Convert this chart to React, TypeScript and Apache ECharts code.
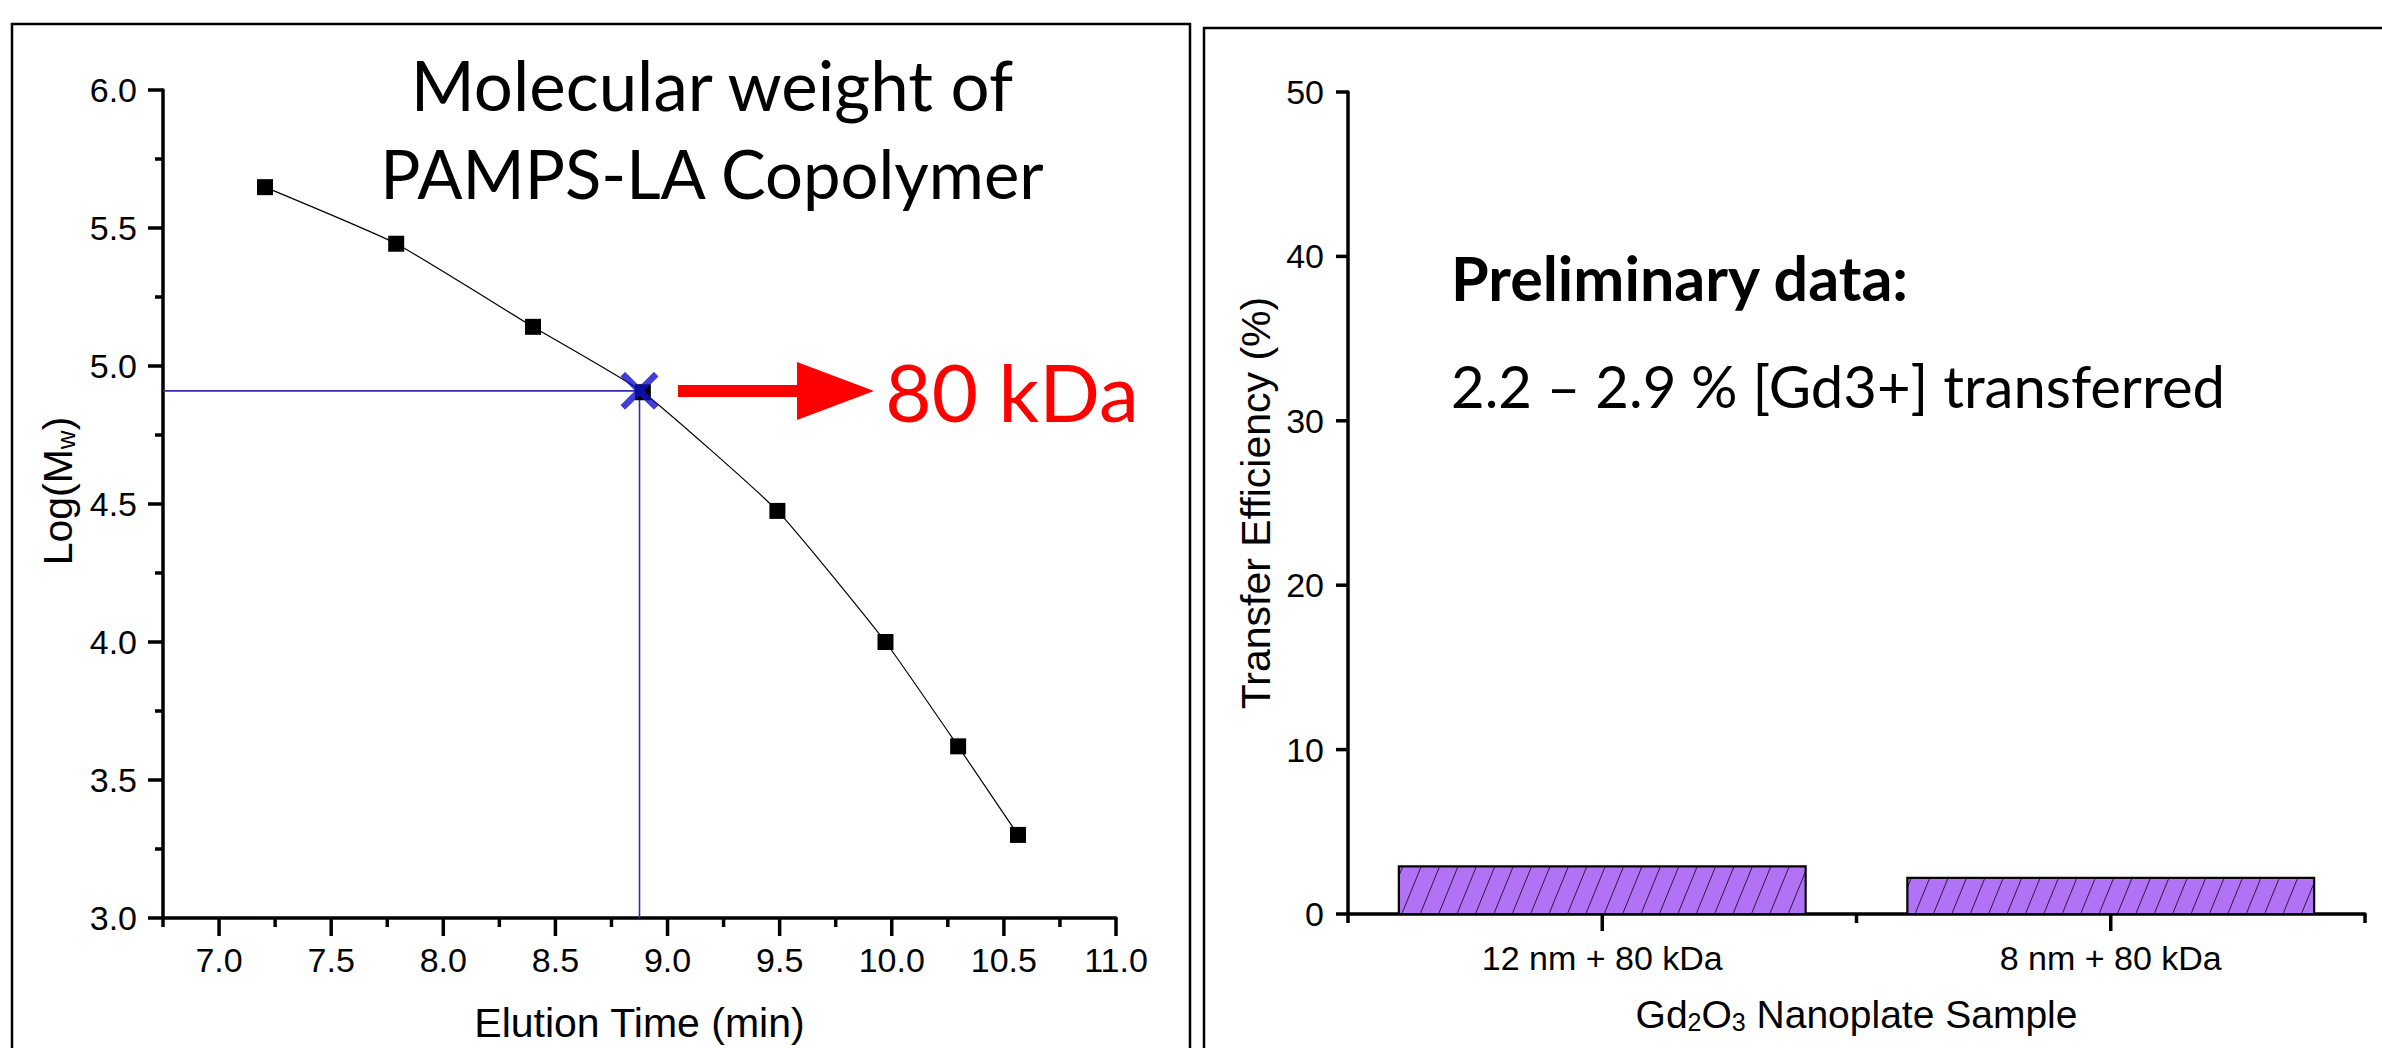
import React, { useEffect, useRef } from "react";
import * as echarts from "echarts";

// ---------- data ----------
const elutionTime = [7.205, 7.79, 8.4, 8.89, 9.49, 9.972, 10.296, 10.563];
const logMw = [5.648, 5.443, 5.142, 4.905, 4.475, 4.0, 3.622, 3.301];
const markerTime = 8.875;
const markerLogMw = 4.91;
const xMajorTicks = [7.0, 7.5, 8.0, 8.5, 9.0, 9.5, 10.0, 10.5, 11.0];
const xMinorTicks = [6.75, 7.25, 7.75, 8.25, 8.75, 9.25, 9.75, 10.25, 10.75];
const yMajorTicks = [3.0, 3.5, 4.0, 4.5, 5.0, 5.5, 6.0];
const yMinorTicks = [3.25, 3.75, 4.25, 4.75, 5.25, 5.75];
const xAxisMin = 6.75;
const xAxisMax = 11.0;
const yAxisMin = 3.0;
const yAxisMax = 6.0;
const samples = ["12 nm + 80 kDa", "8 nm + 80 kDa"];
const transferEfficiency = [2.9, 2.2];
const efficiencyTicks = [0, 10, 20, 30, 40, 50];

const SANS = "'Liberation Sans', Arial, sans-serif";
const CAL = "Lato, 'Open Sans', sans-serif";
const TICK_W = 3.5;

// custom series drawing tick marks; the value goes through the axis scale,
// the other coordinate is the grid edge where the axis line sits
function xTickSeries(xAxisIndex: number, yAxisIndex: number, values: number[], yRef: number, len: number) {
  return {
    type: "custom",
    xAxisIndex,
    yAxisIndex,
    silent: true,
    clip: false,
    data: values.map((v) => [v, yRef]),
    renderItem: (params: any, api: any) => {
      const p = api.coord([api.value(0), api.value(1)]);
      const yb = params.coordSys.y + params.coordSys.height;
      return { type: "line", shape: { x1: p[0], y1: yb, x2: p[0], y2: yb + len }, style: { stroke: "#000", lineWidth: TICK_W } };
    },
    z: 5,
  };
}
function yTickSeries(xAxisIndex: number, yAxisIndex: number, values: number[], xRef: number, len: number) {
  return {
    type: "custom",
    xAxisIndex,
    yAxisIndex,
    silent: true,
    clip: false,
    data: values.map((v) => [xRef, v]),
    renderItem: (params: any, api: any) => {
      const p = api.coord([api.value(0), api.value(1)]);
      const xl = params.coordSys.x;
      return { type: "line", shape: { x1: xl, y1: p[1], x2: xl - len, y2: p[1] }, style: { stroke: "#000", lineWidth: TICK_W } };
    },
    z: 5,
  };
}

export default function App() {
  const ref = useRef<HTMLDivElement>(null);
  useEffect(() => {
    if (!ref.current) return;
    const chart = echarts.init(ref.current, null, { renderer: "svg" });
    const hatchAngle = (67.8 * Math.PI) / 180;
    const hatchSpacing = 18.4;
    const nameRich = (size: number) => ({
      n: { fontFamily: SANS, fontSize: size, color: "#000", lineHeight: size + 1, verticalAlign: "middle" },
      sub: { fontFamily: SANS, fontSize: Math.round(size * 0.63), color: "#000", lineHeight: 26, padding: [30, 0, 0, 0], verticalAlign: "bottom" },
    });
    const isMajor = (v: number) => Math.abs(v * 2 - Math.round(v * 2)) < 1e-6;

    const option: any = {
      animation: false,
      backgroundColor: "#ffffff",
      grid: [
        { left: 163, top: 90, width: 953, height: 830 },
        { left: 1348, top: 92, width: 1017, height: 822 },
      ],
      xAxis: [
        {
          type: "value",
          gridIndex: 0,
          position: "bottom",
          min: xAxisMin,
          max: xAxisMax,
          interval: 0.25,
          name: "Elution Time (min)",
          nameLocation: "middle",
          nameGap: 84,
          nameTextStyle: { fontFamily: SANS, fontSize: 41, color: "#000" },
          axisLine: { show: true, onZero: false, lineStyle: { color: "#000", width: 3.5 } },
          axisTick: { show: false },
          minorTick: { show: false },
          axisLabel: {
            show: true,
            margin: 25,
            fontFamily: SANS,
            fontSize: 34,
            color: "#000",
            formatter: (v: number) => (isMajor(v) ? v.toFixed(1) : ""),
          },
          splitLine: { show: false },
        },
        {
          type: "category",
          gridIndex: 1,
          position: "bottom",
          data: samples,
          boundaryGap: true,
          name: "{n|Gd}{sub|2}{n|O}{sub|3}{n| Nanoplate Sample}",
          nameLocation: "middle",
          nameGap: 80,
          nameTextStyle: { fontFamily: SANS, fontSize: 39, color: "#000", rich: nameRich(39) },
          axisLine: { show: true, onZero: false, lineStyle: { color: "#000", width: 3.5 } },
          axisTick: { show: false },
          axisLabel: { show: true, margin: 27, fontFamily: SANS, fontSize: 34, color: "#000" },
          splitLine: { show: false },
        },
      ],
      yAxis: [
        {
          type: "value",
          gridIndex: 0,
          min: yAxisMin,
          max: yAxisMax,
          interval: 0.5,
          name: "{n|Log(M}{sub|w}{n|)}",
          nameLocation: "middle",
          nameGap: 84,
          nameTextStyle: { fontFamily: SANS, fontSize: 41, color: "#000", rich: nameRich(41), padding: [0, 0, 0, 26] },
          axisLine: { show: true, onZero: false, lineStyle: { color: "#000", width: 3.5 } },
          axisTick: { show: false },
          minorTick: { show: false },
          axisLabel: {
            margin: 26,
            fontFamily: SANS,
            fontSize: 34,
            color: "#000",
            formatter: (v: number) => v.toFixed(1),
          },
          splitLine: { show: false },
        },
        {
          type: "value",
          gridIndex: 1,
          min: 0,
          max: 50,
          interval: 10,
          name: "Transfer Efficiency (%)",
          nameLocation: "middle",
          nameGap: 72,
          nameTextStyle: { fontFamily: SANS, fontSize: 41, color: "#000" },
          axisLine: { show: true, onZero: false, lineStyle: { color: "#000", width: 3.5 } },
          axisTick: { show: false },
          axisLabel: { margin: 24, fontFamily: SANS, fontSize: 34, color: "#000" },
          splitLine: { show: false },
        },
      ],
      series: [
        // tick marks
        xTickSeries(0, 0, xMajorTicks, yAxisMin, 18),
        xTickSeries(0, 0, xMinorTicks, yAxisMin, 9),
        yTickSeries(0, 0, yMajorTicks, xAxisMin, 15),
        yTickSeries(0, 0, yMinorTicks, xAxisMin, 8),
        yTickSeries(1, 1, efficiencyTicks, 0, 12),
        {
          // category ticks: long at each sample, short at band boundaries
          type: "custom",
          xAxisIndex: 1,
          yAxisIndex: 1,
          silent: true,
          clip: false,
          data: samples.map((s, i) => [i, 0]),
          renderItem: (params: any, api: any) => {
            const idx = api.value(0);
            const p = api.coord([idx, 0]);
            const yb = params.coordSys.y + params.coordSys.height;
            const bandW = api.size([1, 0])[0];
            const children: any[] = [
              { type: "line", shape: { x1: p[0], y1: yb, x2: p[0], y2: yb + 17 }, style: { stroke: "#000", lineWidth: TICK_W } },
              { type: "line", shape: { x1: p[0] - bandW / 2, y1: yb, x2: p[0] - bandW / 2, y2: yb + 9 }, style: { stroke: "#000", lineWidth: TICK_W } },
            ];
            if (idx === samples.length - 1) {
              children.push({ type: "line", shape: { x1: p[0] + bandW / 2, y1: yb, x2: p[0] + bandW / 2, y2: yb + 9 }, style: { stroke: "#000", lineWidth: TICK_W } });
            }
            return { type: "group", children };
          },
          z: 5,
        },
        {
          type: "line",
          xAxisIndex: 0,
          yAxisIndex: 0,
          data: [
            [xAxisMin, markerLogMw],
            [markerTime, markerLogMw],
            [markerTime, yAxisMin],
          ],
          symbol: "none",
          lineStyle: { color: "#2e2eb0", width: 1.6 },
          z: 2,
        },
        {
          type: "line",
          xAxisIndex: 0,
          yAxisIndex: 0,
          data: elutionTime.map((t, i) => [t, logMw[i]]),
          smooth: 0.15,
          symbol: "rect",
          symbolSize: 16,
          itemStyle: { color: "#000" },
          lineStyle: { color: "#000", width: 1.2 },
          z: 3,
        },
        {
          type: "scatter",
          xAxisIndex: 0,
          yAxisIndex: 0,
          data: [[markerTime, markerLogMw]],
          symbol: "path://M1.2,0 L5,3.8 L8.8,0 L10,1.2 L6.2,5 L10,8.8 L8.8,10 L5,6.2 L1.2,10 L0,8.8 L3.8,5 L0,1.2 Z",
          symbolSize: 38,
          itemStyle: { color: "#1010d0" },
          z: 4,
        },
        {
          type: "custom",
          xAxisIndex: 1,
          yAxisIndex: 1,
          data: transferEfficiency.map((v, i) => [i, v]),
          renderItem: (params: any, api: any) => {
            const idx = api.value(0);
            const val = api.value(1);
            const base = api.coord([idx, 0]);
            const top = api.coord([idx, val]);
            const bandW = api.size([1, 0])[0];
            const w = bandW * 0.8;
            const x0 = base[0] - w / 2;
            const x1 = base[0] + w / 2;
            const y0 = top[1];
            const y1 = base[1];
            const h = y1 - y0;
            const dx = h / Math.tan(hatchAngle);
            const lines: any[] = [];
            for (let s = x0 - dx + 4; s < x1; s += hatchSpacing) {
              let ax = s, ay = y1, bx = s + dx, by = y0;
              if (ax < x0) {
                ay = y1 - ((x0 - ax) * h) / dx;
                ax = x0;
              }
              if (bx > x1) {
                by = y0 + ((bx - x1) * h) / dx;
                bx = x1;
              }
              if (ax >= bx) continue;
              lines.push({
                type: "line",
                shape: { x1: ax, y1: ay, x2: bx, y2: by },
                style: { stroke: "#2a1a3a", lineWidth: 1 },
              });
            }
            return {
              type: "group",
              children: [
                { type: "rect", shape: { x: x0, y: y0, width: w, height: h }, style: { fill: "#b272f5", stroke: "none" } },
                ...lines,
                { type: "rect", shape: { x: x0, y: y0, width: w, height: h }, style: { fill: "none", stroke: "#000", lineWidth: 2.2 } },
              ],
            };
          },
          z: 2,
        },
      ],
      graphic: [
        { type: "rect", shape: { x: 12, y: 24, width: 1178, height: 1100 }, style: { fill: "none", stroke: "#000", lineWidth: 2.5 }, silent: true },
        { type: "rect", shape: { x: 1204, y: 28, width: 1200, height: 1100 }, style: { fill: "none", stroke: "#000", lineWidth: 2.5 }, silent: true },
        {
          type: "text",
          x: 712,
          y: 84,
          style: { text: "Molecular weight of", fontFamily: CAL, fontSize: 69, fill: "#000", align: "center", verticalAlign: "middle" },
        },
        {
          type: "text",
          x: 712,
          y: 173,
          style: { text: "PAMPS-LA Copolymer", fontFamily: CAL, fontSize: 67, fill: "#000", align: "center", verticalAlign: "middle" },
        },
        {
          type: "polygon",
          shape: {
            points: [
              [678, 385],
              [797, 385],
              [797, 362],
              [874, 391],
              [797, 420],
              [797, 397],
              [678, 397],
            ],
          },
          style: { fill: "#ff0000" },
        },
        {
          type: "text",
          x: 1012,
          y: 391,
          style: { text: "80 kDa", fontFamily: CAL, fontSize: 80, fill: "#ff0000", align: "center", verticalAlign: "middle" },
        },
        {
          type: "text",
          x: 1451,
          y: 277,
          style: { text: "Preliminary data:", fontFamily: CAL, fontSize: 61, fontWeight: "bold", fill: "#000", align: "left", verticalAlign: "middle" },
        },
        {
          type: "text",
          x: 1451,
          y: 385,
          style: { text: "2.2 – 2.9 % [Gd3+] transferred", fontFamily: CAL, fontSize: 58, fill: "#000", align: "left", verticalAlign: "middle" },
        },
      ],
    };
    chart.setOption(option);
    return () => chart.dispose();
  }, []);
  return (
    <div
      ref={ref}
      style={{ position: "absolute", left: 0, top: 0, width: 2382, height: 1048, background: "#fff" }}
    />
  );
}
